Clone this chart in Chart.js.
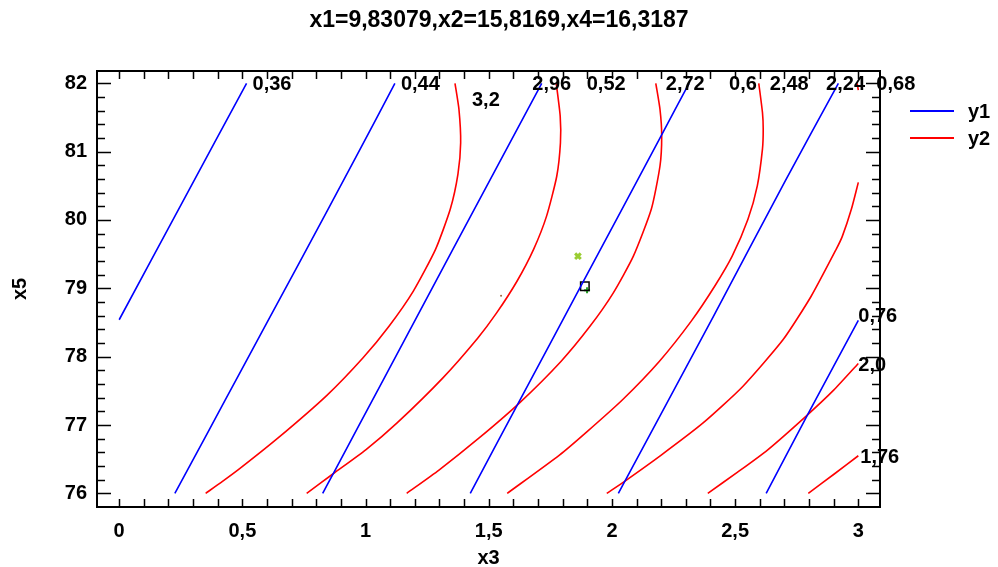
<!DOCTYPE html>
<html>
<head>
<meta charset="utf-8">
<title>x3 - x5</title>
<script src="https://cdn.jsdelivr.net/npm/chart.js@4.4.1/dist/chart.umd.min.js"></script>
<style>
  html, body { margin: 0; padding: 0; background: #fff; }
</style>
</head>
<body>
<canvas id="plot" width="998" height="567"></canvas>
<script>
// contour levels and the traced lines of each level (x3 along, x5 up)
var y1Levels = [0.36, 0.44, 0.52, 0.6, 0.68, 0.76];
var y1X = [
  [0.00, 0.258, 0.517],
  [0.226, 0.361, 0.497, 0.72, 0.964, 1.119],
  [0.826, 0.869, 1.072, 1.35, 1.715],
  [1.425, 1.620, 1.884, 2.198, 2.313],
  [2.026, 2.412, 2.703, 2.919],
  [2.626, 2.797, 3.0]
];
var y1Y = [
  [78.54, 80.27, 82.0],
  [76.0, 76.90, 77.81, 79.30, 80.94, 82.0],
  [76.0, 76.29, 77.66, 79.54, 82.0],
  [76.0, 77.32, 79.10, 81.22, 82.0],
  [76.0, 78.59, 80.57, 82.0],
  [76.0, 77.17, 78.53]
];

var y2Levels = [3.2, 2.96, 2.72, 2.48, 2.24, 2.0, 1.76];
var y2X = [
  [0.351, 0.418, 0.489, 0.645, 0.842, 0.989, 1.096, 1.194, 1.284, 1.344, 1.375, 1.386, 1.379, 1.363],
  [0.761, 0.870, 1.002, 1.128, 1.314, 1.455, 1.532, 1.614, 1.682, 1.735, 1.776, 1.791, 1.790, 1.774],
  [1.167, 1.298, 1.461, 1.624, 1.793, 1.910, 2.005, 2.087, 2.160, 2.195, 2.202, 2.195, 2.178],
  [1.575, 1.787, 1.898, 2.043, 2.192, 2.322, 2.417, 2.488, 2.552, 2.590, 2.611, 2.614, 2.611, 2.596],
  [1.979, 2.053, 2.200, 2.370, 2.530, 2.695, 2.808, 2.910, 2.935, 2.972, 3.0, null, 3.0, 2.995],
  [2.389, 2.510, 2.630, 2.785, 2.900, 3.0],
  [2.797, 2.905, 3.0]
];
var y2Y = [
  [76.0, 76.17, 76.36, 76.81, 77.43, 77.98, 78.45, 78.96, 79.57, 80.16, 80.67, 81.13, 81.62, 82.0],
  [76.0, 76.29, 76.64, 77.03, 77.69, 78.27, 78.64, 79.10, 79.57, 80.06, 80.64, 81.13, 81.52, 82.0],
  [76.0, 76.34, 76.81, 77.32, 77.93, 78.44, 78.93, 79.47, 80.16, 80.79, 81.23, 81.62, 82.0],
  [76.0, 76.56, 76.90, 77.37, 77.93, 78.52, 79.03, 79.47, 80.01, 80.50, 81.04, 81.33, 81.57, 82.0],
  [76.0, 76.18, 76.56, 77.03, 77.56, 78.25, 78.88, 79.57, 79.76, 80.16, 80.55, null, 81.90, 82.0],
  [76.0, 76.31, 76.63, 77.12, 77.51, 77.90],
  [76.0, 76.29, 76.55]
];

// markers around the optimum
var crossX = [1.862], crossY = [79.47];
var boxX = [1.890], boxY = [79.03];
var plusX = [1.899], plusY = [78.97];
var dotX = [1.55], dotY = [78.89];

var xTicks = [0, 0.5, 1, 1.5, 2, 2.5, 3];
var yTicks = [76, 77, 78, 79, 80, 81, 82];

var BLUE = '#0000ff';
var RED = '#ff0000';
var FONT = '"Liberation Sans", Arial, sans-serif';

function pts(xs, ys) {
  return xs.map(function (x, i) { return { x: x, y: ys[i] }; });
}
function commaNum(v) {
  return String(v).replace('.', ',');
}
function levelText(v) {
  return (Number.isInteger(v) ? v.toFixed(1) : String(v)).replace('.', ',');
}

var datasets = [];
y1Levels.forEach(function (lv, i) {
  datasets.push({
    label: 'y1', level: lv, data: pts(y1X[i], y1Y[i]),
    showLine: true, borderColor: BLUE, backgroundColor: BLUE,
    borderWidth: 1.6, pointRadius: 0, tension: 0.2, spanGaps: false
  });
});
y2Levels.forEach(function (lv, i) {
  datasets.push({
    label: 'y2', level: lv, data: pts(y2X[i], y2Y[i]),
    showLine: true, borderColor: RED, backgroundColor: RED,
    borderWidth: 1.6, pointRadius: 0, tension: 0.2, spanGaps: false
  });
});
datasets.push({ label: 'opt', data: pts(crossX, crossY), pointStyle: 'crossRot', pointRadius: 4, borderColor: '#9acd32', borderWidth: 3 });
datasets.push({ label: 'opt', data: pts(boxX, boxY), pointStyle: 'rect', pointRadius: 6, borderColor: '#000', backgroundColor: 'rgba(0,0,0,0)', borderWidth: 1.5 });
datasets.push({ label: 'opt', data: pts(plusX, plusY), pointStyle: 'cross', pointRadius: 3, borderColor: '#22a022', borderWidth: 2 });
datasets.push({ label: 'opt', data: pts(dotX, dotY), pointStyle: 'circle', pointRadius: 1, borderColor: '#a0643c', backgroundColor: '#a0643c', borderWidth: 0 });

// where each level label sits relative to the end of its line (px)
var labelShift = {
  '0.36': [6, 0], '0.44': [6, 0], '0.52': [45, 0], '0.6': [40, 0], '0.68': [38, 0], '0.76': [0, -5],
  '3.2': [17, 16], '2.96': [-24, 0], '2.72': [10, 0], '2.48': [11, 0], '2.24': [-31, 0], '2': [0, 1], '1.76': [2, 0]
};

var framePlugin = {
  id: 'frame',
  afterDraw: function (chart) {
    var ctx = chart.ctx, a = chart.chartArea;
    var sx = chart.scales.x, sy = chart.scales.y;
    ctx.save();
    ctx.strokeStyle = '#000';
    ctx.lineWidth = 1.5;
    ctx.beginPath();
    // x ticks every 0.1, pointing into the plot on top and bottom
    for (var i = 0; i <= 30; i++) {
      var px = Math.round(sx.getPixelForValue(xTicks[0] + i / 10)) + 0.5;
      ctx.moveTo(px, a.bottom); ctx.lineTo(px, a.bottom - 8);
      ctx.moveTo(px, a.top); ctx.lineTo(px, a.top + 8);
    }
    // y ticks every 0.2, longer on whole numbers
    for (var j = 0; j <= 30; j++) {
      var py = Math.round(sy.getPixelForValue(yTicks[0] + j * 0.2)) + 0.5;
      var len = j % 5 === 0 ? 14 : 8;
      ctx.moveTo(a.left, py); ctx.lineTo(a.left + len, py);
      ctx.moveTo(a.right, py); ctx.lineTo(a.right - len, py);
    }
    ctx.stroke();
    ctx.lineWidth = 2;
    ctx.strokeRect(a.left, a.top, a.right - a.left, a.bottom - a.top);

    // level labels
    ctx.fillStyle = '#000';
    ctx.font = 'bold 20px ' + FONT;
    ctx.textAlign = 'left';
    ctx.textBaseline = 'alphabetic';
    chart.data.datasets.forEach(function (ds) {
      if (ds.level === undefined) return;
      var end = null;
      ds.data.forEach(function (p) { if (p.x !== null && p.y !== null) end = p; });
      var sh = labelShift[String(ds.level)] || [4, 0];
      var lx = sx.getPixelForValue(end.x) + sh[0];
      var ly = sy.getPixelForValue(end.y) + sh[1] + 7;
      ctx.fillText(levelText(ds.level), lx, ly);
    });

    // legend
    var items = [['y1', BLUE], ['y2', RED]];
    items.forEach(function (it, k) {
      var yy = a.top + 40 + k * 27;
      ctx.strokeStyle = it[1];
      ctx.lineWidth = 2;
      ctx.beginPath();
      ctx.moveTo(a.right + 30, yy); ctx.lineTo(a.right + 74, yy);
      ctx.stroke();
      ctx.fillStyle = '#000';
      ctx.fillText(it[0], a.right + 88, yy + 7);
    });
    ctx.restore();
  }
};

Chart.defaults.font.family = FONT;
Chart.defaults.color = '#000';

new Chart(document.getElementById('plot'), {
  type: 'scatter',
  data: { datasets: datasets },
  options: {
    responsive: false,
    animation: false,
    layout: { padding: 0 },
    plugins: {
      legend: { display: false },
      tooltip: { enabled: false },
      title: {
        display: true,
        text: 'x1=9,83079,x2=15,8169,x4=16,3187',
        font: { size: 23, weight: 'bold' },
        padding: { top: 7, bottom: 36.4 }
      }
    },
    scales: {
      x: {
        type: 'linear', min: -0.09, max: 3.088,
        grid: { display: false, drawTicks: false },
        border: { display: false },
        afterBuildTicks: function (s) { s.ticks = xTicks.map(function (v) { return { value: v }; }); },
        afterFit: function (s) { s.height = 60; },
        ticks: { padding: 12, font: { size: 20, weight: 'bold' }, callback: function (v) { return commaNum(v); } },
        title: { display: true, text: 'x3', font: { size: 20, weight: 'bold' }, padding: { top: 0, bottom: -3 } }
      },
      y: {
        type: 'linear', min: 75.80, max: 82.18,
        grid: { display: false, drawTicks: false },
        border: { display: false },
        afterBuildTicks: function (s) { s.ticks = yTicks.map(function (v) { return { value: v }; }); },
        afterFit: function (s) { s.width = 97; },
        ticks: { padding: 10, font: { size: 20, weight: 'bold' }, callback: function (v) { return commaNum(v); } },
        title: { display: true, text: 'x5', font: { size: 20, weight: 'bold' }, padding: { top: 8, bottom: 0 } }
      },
      // empty strip on the right that holds the legend
      side: {
        type: 'linear', axis: 'y', position: 'right',
        grid: { display: false, drawTicks: false },
        border: { display: false },
        ticks: { display: false },
        afterFit: function (s) { s.width = 118; }
      }
    }
  },
  plugins: [framePlugin]
});
</script>
</body>
</html>
